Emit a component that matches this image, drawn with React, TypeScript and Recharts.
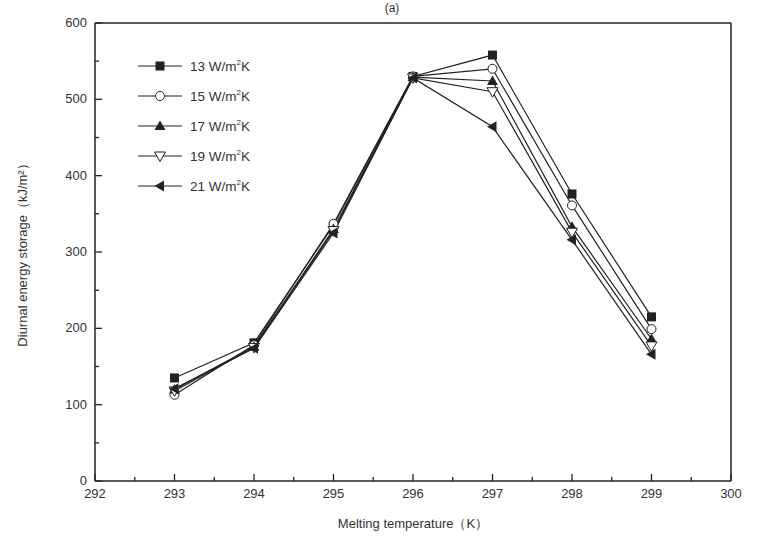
import React from "react";
import { LineChart, Line, XAxis, YAxis, ReferenceLine, Label } from "recharts";

const temps = [293, 294, 295, 296, 297, 298, 299];
const h13 = [135, 181, 335, 530, 558, 376, 215];
const h15 = [113, 178, 337, 530, 540, 361, 199];
const h17 = [120, 176, 330, 529, 524, 333, 186];
const h19 = [118, 175, 328, 528, 510, 326, 177];
const h21 = [121, 174, 325, 528, 464, 316, 166];

const xTicks = [292, 292.5, 293, 293.5, 294, 294.5, 295, 295.5, 296, 296.5, 297, 297.5, 298, 298.5, 299, 299.5, 300];
const yTicks = [0, 50, 100, 150, 200, 250, 300, 350, 400, 450, 500, 550, 600];

const seriesInfo = [
  { key: "h13", name: "13", shape: "square" },
  { key: "h15", name: "15", shape: "circle" },
  { key: "h17", name: "17", shape: "up" },
  { key: "h19", name: "19", shape: "down" },
  { key: "h21", name: "21", shape: "left" },
];

const data = temps.map((t, i) => ({
  t,
  h13: h13[i],
  h15: h15[i],
  h17: h17[i],
  h19: h19[i],
  h21: h21[i],
}));

const ink = "#222";
const textColor = "#333";
const font = "'Liberation Sans', Arial, sans-serif";

const Marker = ({ cx, cy, shape }: { cx: number; cy: number; shape: string }) => {
  if (cx == null || cy == null) return null;
  const s = 4.5;
  if (shape === "square")
    return <rect x={cx - s} y={cy - s} width={s * 2} height={s * 2} fill={ink} />;
  if (shape === "circle")
    return <circle cx={cx} cy={cy} r={4.5} fill="#fff" stroke={ink} strokeWidth={1} />;
  if (shape === "up")
    return <polygon points={`${cx},${cy - 5.5} ${cx + 5.5},${cy + 4} ${cx - 5.5},${cy + 4}`} fill={ink} />;
  if (shape === "down")
    return (
      <polygon
        points={`${cx},${cy + 5.5} ${cx + 5.5},${cy - 4} ${cx - 5.5},${cy - 4}`}
        fill="#fff"
        stroke={ink}
        strokeWidth={1}
      />
    );
  return <polygon points={`${cx - 5.5},${cy} ${cx + 4},${cy - 5.5} ${cx + 4},${cy + 5.5}`} fill={ink} />;
};

const XTick = (props: any) => {
  const { x, y, payload } = props;
  const major = Number.isInteger(payload.value);
  return (
    <g>
      <line x1={x} x2={x} y1={y} y2={y - (major ? 7 : 4)} stroke={ink} strokeWidth={1.3} />
      {major && (
        <text x={x} y={y + 17} textAnchor="middle" fontSize={13} fill={textColor} fontFamily={font}>
          {payload.value}
        </text>
      )}
    </g>
  );
};

const YTick = (props: any) => {
  const { x, y, payload, side } = props;
  const major = payload.value % 100 === 0;
  const dir = side === "left" ? 1 : -1;
  return (
    <g>
      <line x1={x} x2={x + dir * (major ? 7 : 4)} y1={y} y2={y} stroke={ink} strokeWidth={1.3} />
      {major && (
        <text
          x={x - dir * 8}
          y={y + 4}
          textAnchor={side === "left" ? "end" : "start"}
          fontSize={13}
          fill={textColor}
          fontFamily={font}
        >
          {payload.value}
        </text>
      )}
    </g>
  );
};

// legend drawn straight into the chart svg so it doesn't push the plot area
const LegendBox = ({ x, y }: { x: number; y: number }) => (
  <g>
    {seriesInfo.map((s, i) => {
      const ry = y + i * 30;
      return (
        <g key={s.key}>
          <line x1={x} x2={x + 44} y1={ry} y2={ry} stroke={ink} strokeWidth={1.2} />
          <Marker cx={x + 22} cy={ry} shape={s.shape} />
          <text x={x + 52} y={ry + 5} fontSize={13.5} fill={textColor} fontFamily={font}>
            {s.name} W/m
            <tspan fontSize={8} dy={-6}>2</tspan>
            <tspan dy={6}>K</tspan>
          </text>
        </g>
      );
    })}
  </g>
);

export default function App() {
  return (
    <div style={{ position: "absolute", left: 0, top: 0, width: 761, height: 537, background: "#fff" }}>
      <LineChart width={761} height={537} data={data} margin={{ top: 23, right: 0, bottom: 0, left: 0 }}>
        <text x={392} y={12} textAnchor="middle" fontSize={12} fill={textColor} fontFamily={font}>
          (a)
        </text>
        <XAxis
          dataKey="t"
          type="number"
          domain={[292, 300]}
          ticks={xTicks}
          interval={0}
          height={56}
          tickSize={0}
          tickMargin={0}
          tickLine={false}
          tick={<XTick />}
          axisLine={{ stroke: ink, strokeWidth: 1.5 }}
        >
          <Label
            value="Melting temperature（K）"
            position="insideBottom"
            offset={9}
            style={{ fontSize: 13, fill: textColor, fontFamily: font }}
          />
        </XAxis>
        <YAxis
          yAxisId="left"
          domain={[0, 600]}
          ticks={yTicks}
          interval={0}
          width={95}
          tickSize={0}
          tickMargin={0}
          tickLine={false}
          tick={<YTick side="left" />}
          axisLine={{ stroke: ink, strokeWidth: 1.5 }}
        >
          <Label
            value="Diurnal energy storage（kJ/m²）"
            angle={-90}
            position="insideLeft"
            offset={22}
            style={{ fontSize: 13, fill: textColor, fontFamily: font, textAnchor: "middle" }}
          />
        </YAxis>
        <YAxis
          yAxisId="right"
          orientation="right"
          domain={[0, 600]}
          ticks={yTicks}
          interval={0}
          width={30}
          tickSize={0}
          tickMargin={0}
          tickLine={false}
          tick={<YTick side="right" />}
          axisLine={{ stroke: ink, strokeWidth: 1.5 }}
        />
        <ReferenceLine yAxisId="left" y={600} stroke={ink} strokeWidth={1.5} />
        <LegendBox x={138} y={66} />
        {seriesInfo.map((s) => (
          <Line
            key={s.key}
            yAxisId="left"
            dataKey={s.key}
            stroke={ink}
            strokeWidth={1.2}
            isAnimationActive={false}
            dot={(p: any) => <Marker key={`${s.key}-${p.index}`} cx={p.cx} cy={p.cy} shape={s.shape} />}
            activeDot={false}
          />
        ))}
      </LineChart>
    </div>
  );
}
